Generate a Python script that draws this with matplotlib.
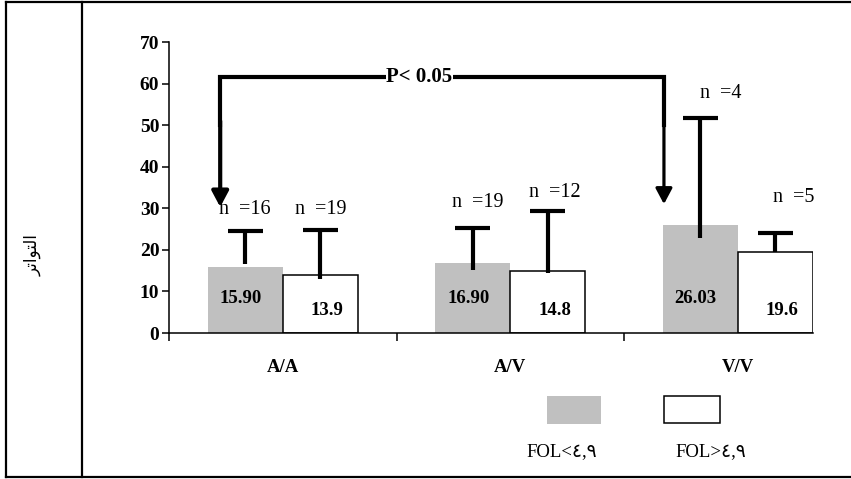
import numpy as np
import matplotlib.pyplot as plt
from matplotlib.lines import Line2D
from matplotlib.patches import Rectangle

# -----------------------------
# DATA
# -----------------------------
groups = ["A/A", "A/V", "V/V"]
low_vals = [15.90, 16.90, 26.03]      # FOL < 4.9 (gray)
high_vals = [13.9, 14.8, 19.6]        # FOL > 4.9 (white)
low_labels = ["15.90", "16.90", "26.03"]
high_labels = ["13.9", "14.8", "19.6"]
low_err_top = [24.5, 25.2, 51.7]
high_err_top = [24.8, 29.3, 24.0]
low_err_base = [16.6, 15.2, 22.8]
high_err_base = [13.0, 14.4, 19.6]
low_n = [16, 19, 4]
high_n = [19, 12, 5]
legend_labels = ["FOL<٤,٩", "FOL>٤,٩"]
p_text = "P< 0.05"
ylabel = "التواتر"
# shaped (presentation forms, visual order) so the Arabic joins correctly
ylabel_shaped = "\uFEAE\uFE97\uFE8D\uFEEE\uFE98\uFEDF\uFE8D"

# -----------------------------
# STYLE
# -----------------------------
GRAY = "#c0c0c0"
SERIF = ["Liberation Serif", "DejaVu Serif"]
W, H = 851, 479
BAR_W = 0.33

plt.rcParams["font.family"] = SERIF

fig = plt.figure(figsize=(W / 100, H / 100), dpi=100)
ax = fig.add_axes([169 / W, 1 - 333 / H, (813 - 169) / W, (333 - 42) / H])

x = np.arange(len(groups))
xl = x - BAR_W / 2
xh = x + BAR_W / 2

ax.bar(xl, low_vals, BAR_W, color=GRAY, edgecolor="none", zorder=2)
ax.bar(xh, high_vals, BAR_W, color="white", edgecolor="black", linewidth=1.1, zorder=2)

# error bars (upper only), drawn over the bars
cap = 0.077
for xs, base, top in [(xl, low_err_base, low_err_top), (xh, high_err_base, high_err_top)]:
    ax.vlines(xs, base, top, color="black", linewidth=3, zorder=3)
    ax.hlines(top, xs - cap, xs + cap, color="black", linewidth=3, zorder=3)

# n labels
n_dx_low = [0.0, 0.02, 0.09]
n_dx_high = [0.0, 0.03, 0.08]
n_dy_low = [5.1, 6.3, 6.0]
n_dy_high = [4.8, 4.4, 8.7]
for i in range(len(groups)):
    ax.text(xl[i] + n_dx_low[i], low_err_top[i] + n_dy_low[i], f"n  ={low_n[i]}",
            ha="center", va="center", fontsize=14.5)
    ax.text(xh[i] + n_dx_high[i], high_err_top[i] + n_dy_high[i], f"n  ={high_n[i]}",
            ha="center", va="center", fontsize=14.5)

# value labels inside bars
for i in range(len(groups)):
    ax.text(xl[i] - 0.02, 8.3, low_labels[i], ha="center", va="center",
            fontsize=13.5, fontweight="bold", zorder=4)
    ax.text(xh[i] + 0.03, 5.5, high_labels[i], ha="center", va="center",
            fontsize=13.5, fontweight="bold", zorder=4)

# significance bracket
y_br = 61.5
x_left = xl[0] - 0.11
x_right = xl[2] - 0.16
ax.plot([x_left, x_left, x_right, x_right], [50, y_br, y_br, 50],
        color="black", linewidth=3, solid_joinstyle="miter", zorder=3)
for xa, tip in [(x_left, 30.3), (x_right, 31.0)]:
    ax.annotate("", xy=(xa, tip), xytext=(xa, 51),
                arrowprops=dict(arrowstyle="-|>,head_length=0.47,head_width=0.25",
                                mutation_scale=20, lw=3 if xa == x_left else 2.3,
                                color="black", shrinkA=0, shrinkB=0))
ax.text((x_left + x_right) / 2 - 0.1, y_br, p_text, ha="center", va="center",
        fontsize=15, fontweight="bold", zorder=5,
        bbox=dict(facecolor="white", edgecolor="none", pad=0.3))

# axes
ax.set_xlim(-0.5, xh[-1] + BAR_W / 2)
ax.set_ylim(0, 70)
ax.set_yticks(np.arange(0, 71, 10))
ax.set_yticklabels([str(v) for v in range(0, 71, 10)], fontsize=14, fontweight="bold")
ax.set_xticks([-0.5, 0.5, 1.5])
ax.set_xticklabels([])
ax.set_xticks(x, minor=True)
ax.set_xticklabels(groups, minor=True, fontsize=13.5, fontweight="bold")
ax.tick_params(axis="x", which="major", direction="out", length=6, width=1.1)
ax.tick_params(axis="x", which="minor", length=0, pad=19)
ax.tick_params(axis="y", direction="out", length=5, width=1.1, pad=2)
for side in ["top", "right"]:
    ax.spines[side].set_visible(False)
for side in ["left", "bottom"]:
    ax.spines[side].set_linewidth(1.1)

# legend drawn as figure patches
fig.add_artist(Rectangle((547 / W, 1 - 424 / H), 54 / W, 28 / H,
                         transform=fig.transFigure, facecolor=GRAY, edgecolor="none"))
fig.add_artist(Rectangle((664 / W, 1 - 423 / H), 56 / W, 27 / H,
                         transform=fig.transFigure, facecolor="white",
                         edgecolor="black", linewidth=1.1))
fig.text(562 / W, 1 - 452 / H, legend_labels[0], ha="center", va="center",
         fontsize=13.5, family=["Liberation Serif", "DejaVu Sans"])
fig.text(711 / W, 1 - 452 / H, legend_labels[1], ha="center", va="center",
         fontsize=13.5, family=["Liberation Serif", "DejaVu Sans"])

# y label in the side column
fig.text(33 / W, 1 - 255 / H, ylabel_shaped, rotation=90, ha="center", va="center",
         fontsize=12, family=["DejaVu Sans"])

# outer frame
for xs, ys in [([6, 851], [2, 2]), ([6, 851], [477, 477]), ([6, 6], [2, 477]), ([82, 82], [2, 477])]:
    fig.add_artist(Line2D([v / W for v in xs], [1 - v / H for v in ys],
                          transform=fig.transFigure, color="black", linewidth=1.6))

fig.savefig("out.png", dpi=100)
